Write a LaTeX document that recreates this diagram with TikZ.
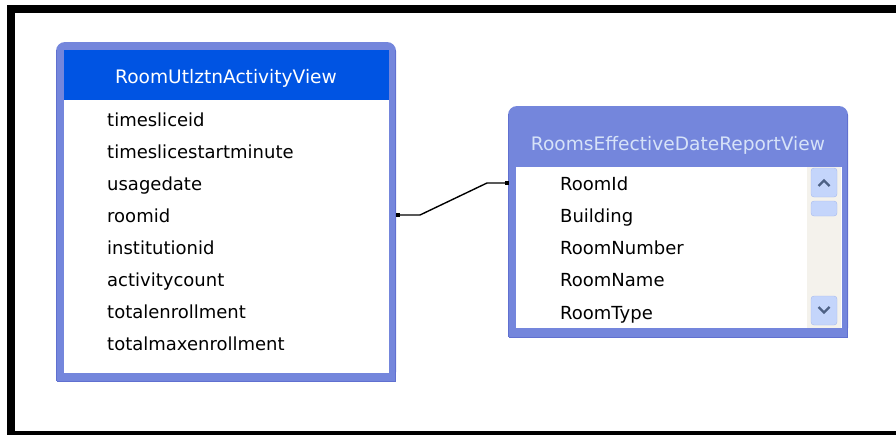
\documentclass[tikz,border=0pt]{standalone}
\usepackage{fontspec}
\setmainfont{DejaVu Sans}
\usetikzlibrary{positioning}
\definecolor{xpblue}{RGB}{0,84,227}
\definecolor{xpframe}{RGB}{116,134,220}
\definecolor{xpedge}{RGB}{96,112,208}
\definecolor{xptitle}{RGB}{214,226,248}
\definecolor{xptrack}{RGB}{244,242,236}
\definecolor{xpbtn}{RGB}{196,213,251}
\definecolor{xpbtnedge}{RGB}{166,186,238}
\definecolor{xparrow}{RGB}{77,97,133}
\tikzset{field/.style = {anchor=base west, inner sep=0, font=\fontsize{18}{20}\selectfont}}
\tikzset{title/.style = {anchor=base, inner sep=0, font=\fontsize{18.6}{20}\selectfont}}
\tikzset{sq/.style = {fill, rectangle, inner sep=0, minimum size=4.5}}
\tikzset{scrollbtn/.style = {fill=xpbtn, draw=xpbtnedge, rounded corners=3}}

\begin{document}
\begin{tikzpicture}[x=1pt, y=-1pt]
      \useasboundingbox (0,0) rectangle (896,434);
      \fill[white] (0,0) rectangle (896,434);
      \begin{scope}
        \clip (0,0) rectangle (896,434);
        \draw [line width=8] (900,9) -- (11,9) -- (11,435) -- (900,435);
      \end{scope}

      % left view
      \fill [xpframe, rounded corners=9] (56,42) rectangle (396,381);
      \fill [xpframe] (56,200) rectangle (396,381);
      \draw [xpedge] (56.5,381) -- (56.5,50) (395.5,50) -- (395.5,381) -- (56.5,381);
      \fill [xpblue] (64,50) rectangle (389,100);
      \fill [white] (64,100) rectangle (389,373);
      \node [title, white] (utiltitle) at (226,83) {RoomUtlztnActivityView};
      \foreach \f [count=\i] in {timesliceid, timeslicestartminute, usagedate, roomid,
                                 institutionid, activitycount, totalenrollment, totalmaxenrollment}
        \node [field] (ua\i) at (107, 94+32*\i) {\f};

      % right view
      \fill [xpframe, rounded corners=9] (508,106) rectangle (848,337);
      \fill [xpframe] (508,200) rectangle (848,337);
      \draw [xpedge] (508.5,337) -- (508.5,114) (847.5,114) -- (847.5,337) -- (508.5,337);
      \fill [white] (516,167) rectangle (842,328);
      \node [title, xptitle] (rptitle) at (678,150) {RoomsEffectiveDateReportView};
      \foreach \f [count=\i] in {RoomId, Building, RoomNumber, RoomName, RoomType}
        \node [field] (rv\i) at (560, 158+32.2*\i) {\f};

      \fill [xptrack] (807,167) rectangle (841,328);
      \draw [scrollbtn] (811,168) rectangle (837,197);
      \draw [scrollbtn] (811,201) rectangle (837,216);
      \draw [scrollbtn] (811,296) rectangle (837,325);
      \draw [xparrow, line width=2.4] (818.5,186) -- (824,180.5) -- (829.5,186);
      \draw [xparrow, line width=2.4] (818.5,307) -- (824,312.5) -- (829.5,307);

      % link
      \node [sq] (upin) at (398,215) {};
      \node [sq] (rpin) at (507,183) {};
      \draw [line width=1.4] (upin.center) -- ++(22,0) -- ++(67,-32) -- (rpin.center);
    \end{tikzpicture}
\end{document}
